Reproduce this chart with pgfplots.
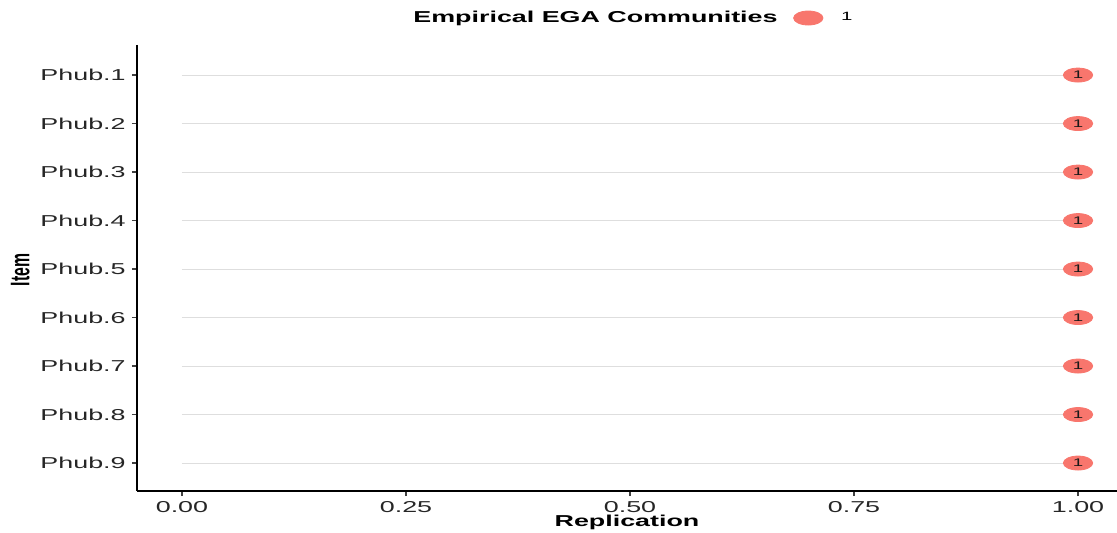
\documentclass[border=0pt]{standalone}
\usepackage{pgfplots}
\pgfplotsset{compat=1.18}
\usepackage{fontspec}
\setmainfont{Liberation Sans}
\usepackage{graphicx}
\definecolor{egared}{HTML}{F8766D}
\newcommand\wide[1]{\scalebox{1.7}[1]{#1}}
\newcommand\tall[1]{\scalebox{1}[1.7]{#1}}

\begin{document}
\begin{tikzpicture}
  \useasboundingbox (-68.5pt,-20.5pt) rectangle (490pt,245.5pt);
  \begin{axis}[
    scale only axis,
    width=490pt,
    height=223pt,
    xmin=-0.0502, xmax=1.0435,
    ymin=0.38, ymax=9.577,
    y dir=reverse,
    axis x line*=bottom,
    axis y line*=left,
    axis line style={black, line width=0.9pt, -},
    tick align=outside,
    major tick length=2.5pt,
    tick style={black!75, line width=0.6pt},
    xtick={0,0.25,0.5,0.75,1},
    xticklabels={\wide{0.00},\wide{0.25},\wide{0.50},\wide{0.75},\wide{1.00}},
    ytick={1,2,3,4,5,6,7,8,9},
    yticklabels={\wide{Phub.1},\wide{Phub.2},\wide{Phub.3},\wide{Phub.4},\wide{Phub.5},\wide{Phub.6},\wide{Phub.7},\wide{Phub.8},\wide{Phub.9}},
    ticklabel style={font=\fontsize{7.9}{9}\selectfont, text=black!85},
    yticklabel style={inner sep=0pt, xshift=-3pt},
    xticklabel style={inner sep=0pt, yshift=-2.5pt},
    xlabel={\wide{\textbf{Replication}}},
    ylabel={\tall{\textbf{Item}}},
    label style={font=\fontsize{7.9}{9}\selectfont},
    xlabel style={at={(axis description cs:0.5,-0.07)}, anchor=center},
    ylabel style={at={(axis description cs:-0.119,0.4955)}, anchor=center, rotate=0},
    legend style={at={(axis description cs:0.506,1.0605)}, anchor=center,
      draw=none, fill=none, font=\fontsize{7.9}{9}\selectfont,
      /tikz/every even column/.append style={column sep=6pt}},
    legend columns=2,
    unbounded coords=jump,
    clip=false,
  ]
    % segments from 0 to 1 for every item
    \addplot[forget plot, black!13, line width=0.5pt] coordinates {
      (0,1) (1,1) (nan,nan)
      (0,2) (1,2) (nan,nan)
      (0,3) (1,3) (nan,nan)
      (0,4) (1,4) (nan,nan)
      (0,5) (1,5) (nan,nan)
      (0,6) (1,6) (nan,nan)
      (0,7) (1,7) (nan,nan)
      (0,8) (1,8) (nan,nan)
      (0,9) (1,9)
    };
    \addlegendimage{empty legend}
    \addlegendentry{\wide{\textbf{Empirical EGA Communities}}}
    \addplot[only marks, mark=*, mark size=3.5pt,
      mark options={xscale=2.1, fill=egared, draw=egared},
      nodes near coords={\wide{1}},
      every node near coord/.append style={anchor=center, inner sep=0pt,
        font=\fontsize{5.5}{6}\selectfont, text=black!90}]
      coordinates {
      (1,1) (1,2) (1,3) (1,4) (1,5) (1,6) (1,7) (1,8) (1,9)
    };
    \addlegendentry{\hspace{7pt}\wide{\fontsize{6}{7}\selectfont 1}}
  \end{axis}
\end{tikzpicture}
\end{document}
